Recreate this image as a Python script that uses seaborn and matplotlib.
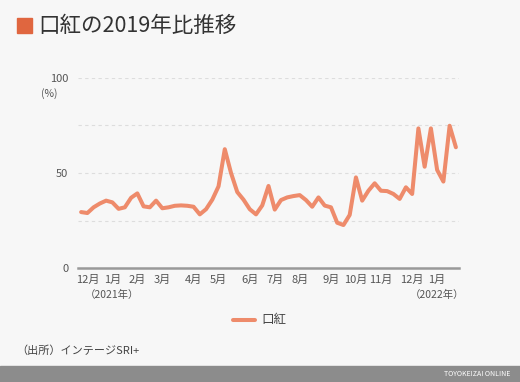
import pandas as pd
import matplotlib
matplotlib.use("Agg")
import matplotlib.pyplot as plt
import seaborn as sns
from matplotlib.patches import Rectangle

# weekly values, 2019 = 100 basis (%), weeks starting Monday
start_week = "2020-11-30"
lipstick = [
    29.5, 29.0, 32.0, 34.0, 35.5, 34.6, 31.2, 32.0, 37.0, 39.3,
    32.5, 32.0, 35.5, 31.5, 32.0, 32.8, 33.0, 32.8, 32.3, 28.3,
    31.0, 36.0, 43.0, 62.5, 50.0, 40.0, 36.0, 31.0, 28.3, 33.0,
    43.2, 30.8, 35.8, 37.2, 37.9, 38.4, 35.8, 32.3, 37.2, 32.9,
    32.0, 23.9, 22.7, 28.0, 47.7, 35.5, 40.7, 44.6, 40.7, 40.5,
    39.0, 36.4, 42.5, 39.0, 73.4, 53.3, 73.4, 51.6, 45.5, 74.8,
    63.5,
]
series_name = "口紅"
title = "口紅の2019年比推移"
source = "（出所）インテージSRI+"

weeks = pd.date_range(start_week, periods=len(lipstick), freq="W-MON")
df = pd.DataFrame({"week": weeks, "value": lipstick, "item": series_name})

sns.set_theme(style="white")
plt.rcParams["font.family"] = ["Noto Sans CJK JP", "DejaVu Sans"]

bg = "#f7f7f7"
line_color = "#ee8b6b"

fig = plt.figure(figsize=(5.2, 3.82), dpi=100, facecolor=bg)
ax = fig.add_axes([78 / 520, 1 - 268.3 / 382, (459 - 78) / 520, (268.3 - 77.7) / 382])
ax.set_facecolor(bg)

sns.lineplot(data=df, x="week", y="value", hue="item", palette=[line_color],
             linewidth=2.9, ax=ax, legend=False)

ax.set_ylim(0, 100)
ax.set_xlim(weeks[0] - pd.Timedelta(days=3.5), weeks[-1] + pd.Timedelta(days=3.5))

# grid
for v in [25, 50, 75, 100]:
    ax.axhline(v, color="#dddddd", lw=0.8, ls=(0, (3, 3)), zorder=0)
ax.set_yticks([0, 50, 100])
ax.set_yticklabels(["0", "50", "100"])
ax.tick_params(axis="y", length=0, pad=7, labelsize=8, labelcolor="#555555")
ax.text(-0.053, 0.915, "(%)", transform=ax.transAxes, ha="right", va="center",
        fontsize=7.5, color="#555555")

# month ticks at first week of each month
tick_pos = [d for i, d in enumerate(weeks) if i > 0 and d.month != weeks[i - 1].month]
ax.set_xticks(tick_pos)
ax.set_xticklabels([f"{d.month}月" for d in tick_pos])
ax.tick_params(axis="x", direction="inout", length=6, width=0.8, color="#aaaaaa",
               pad=2, labelsize=8, labelcolor="#555555")
for d in tick_pos:
    if d.month == 1:
        ax.text(d, -0.115, f"（{d.year}年）", transform=ax.get_xaxis_transform(),
                ha="center", va="top", fontsize=7.5, color="#555555")

ax.set_xlabel("")
ax.set_ylabel("")
for s in ["top", "right", "left"]:
    ax.spines[s].set_visible(False)
ax.spines["bottom"].set_color("#999999")
ax.spines["bottom"].set_linewidth(1.8)

# title
fig.patches.append(Rectangle((17 / 520, 1 - 33 / 382), 15 / 520, 15 / 382,
                             transform=fig.transFigure, color="#e0663f"))
fig.text(38 / 520, 1 - 25.5 / 382, title, ha="left", va="center",
         fontsize=15.5, color="#333333")

# legend
fig.add_artist(plt.Line2D([233 / 520, 255 / 520], [1 - 320 / 382, 1 - 320 / 382],
                          color=line_color, lw=2.9, transform=fig.transFigure))
fig.text(261 / 520, 1 - 320 / 382, series_name, ha="left", va="center",
         fontsize=9, color="#444444")

# source
fig.text(16 / 520, 1 - 351 / 382, source, ha="left", va="center",
         fontsize=8, color="#444444")

# footer band
fig.patches.append(Rectangle((0, 0), 1, 16 / 382, transform=fig.transFigure,
                             color="#8c8c8c"))
fig.text(510 / 520, 8 / 382, "TOYOKEIZAI ONLINE", ha="right", va="center",
         fontsize=5, color="white")

fig.savefig("out.png", dpi=100, facecolor=bg)
